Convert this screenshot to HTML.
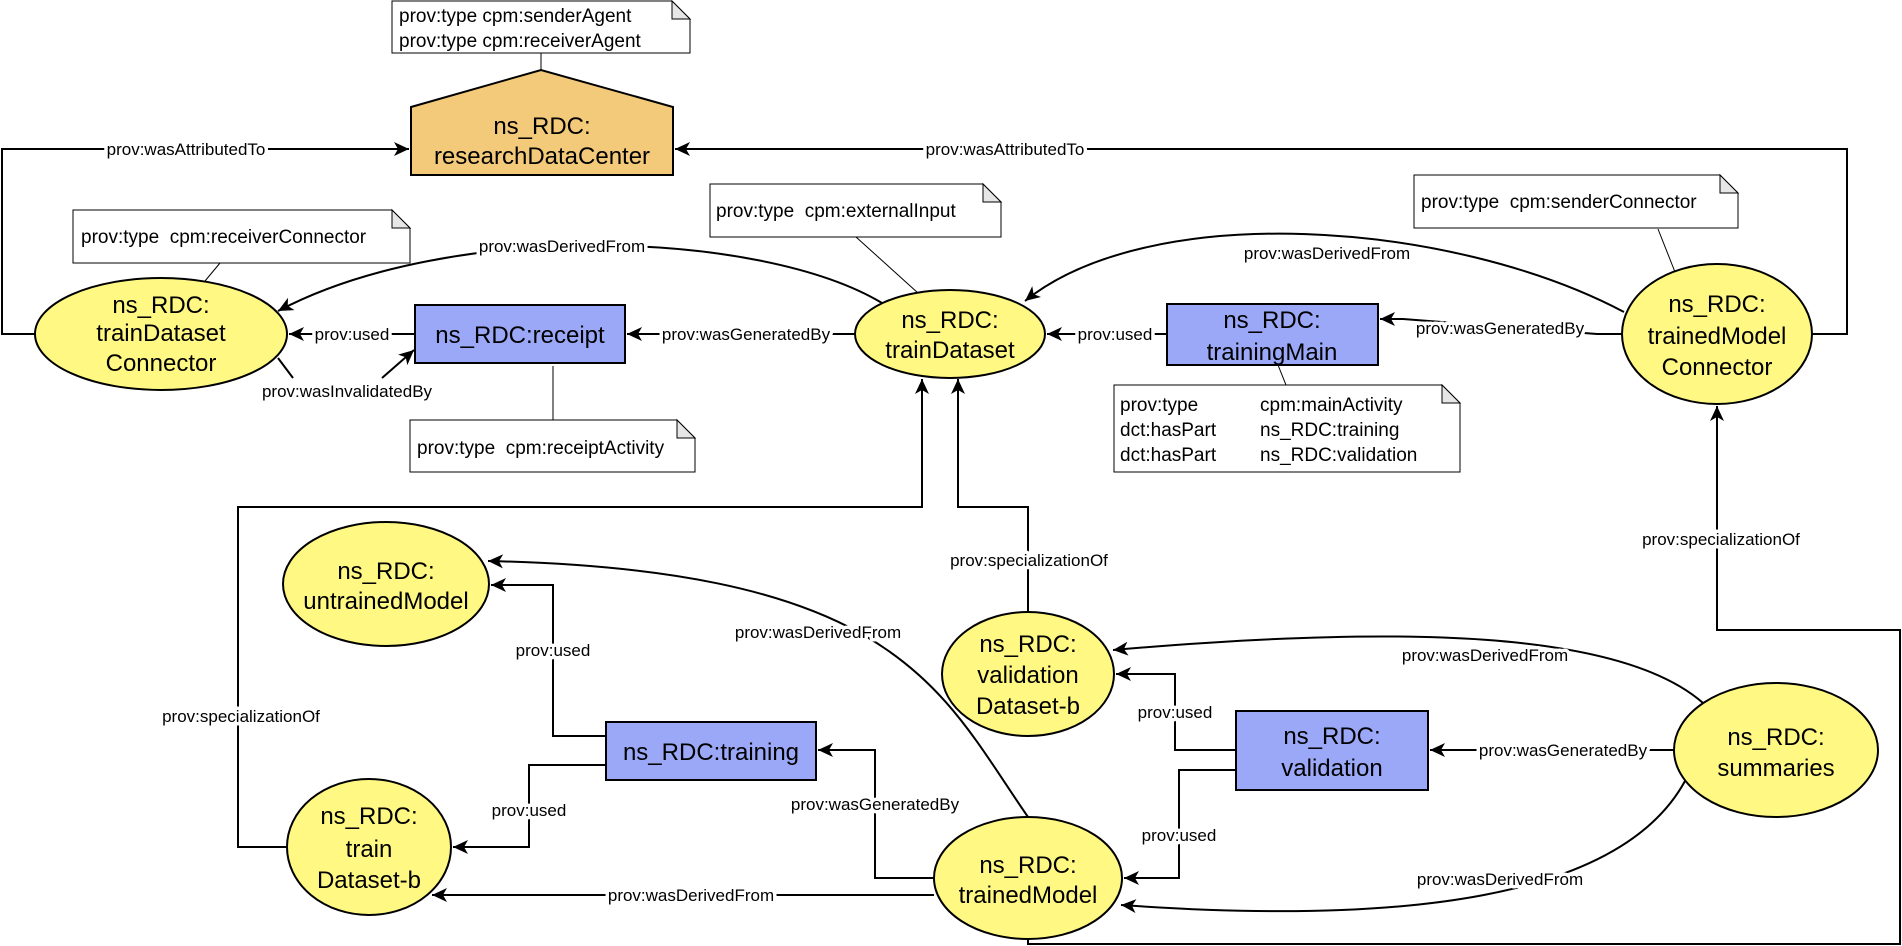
<!DOCTYPE html>
<html><head><meta charset="utf-8"><style>
html,body{margin:0;padding:0;background:#fff;}
svg{display:block;}
text{font-family:"Liberation Sans",Arial,sans-serif;fill:#000;}
.n{font-size:24px;text-anchor:middle;}
.l{font-size:17px;text-anchor:middle;stroke:#fff;stroke-width:7px;paint-order:stroke;stroke-linejoin:round;}
.t{font-size:19px;white-space:pre;}
.e{fill:none;stroke:#000;stroke-width:2;}
.th{fill:none;stroke:#000;stroke-width:1;}
.ent{fill:#FFF983;stroke:#000;stroke-width:2;}
.act{fill:#9AA8F7;stroke:#000;stroke-width:2;}
.note{fill:#fff;stroke:#000;stroke-width:1;}
</style></head><body>
<svg width="1902" height="946" viewBox="0 0 1902 946" xmlns="http://www.w3.org/2000/svg">
<defs>
<marker id="a" markerUnits="userSpaceOnUse" markerWidth="16" markerHeight="14" refX="15" refY="7" orient="auto">
<path d="M0,0 L15,7 L0,14 L4,7 z" fill="#000"/>
</marker>
</defs>

<!-- note connector thin lines -->
<line class="th" x1="541" y1="53" x2="541" y2="70"/>
<line class="th" x1="220" y1="263" x2="205" y2="281"/>
<line class="th" x1="553" y1="366" x2="553" y2="420"/>
<line class="th" x1="856" y1="237" x2="918" y2="293"/>
<line class="th" x1="1278" y1="365" x2="1286" y2="385"/>
<line class="th" x1="1658" y1="229" x2="1675" y2="272"/>

<!-- edges -->
<path class="e" d="M35,334 H2 V149 H409" marker-end="url(#a)"/>
<path class="e" d="M1812,334 H1847 V149 H675" marker-end="url(#a)"/>
<path class="e" d="M882,303 C760,230 450,220 278,311" marker-end="url(#a)"/>
<path class="e" d="M1624,312 C1450,220 1150,200 1025,301" marker-end="url(#a)"/>
<path class="e" d="M415,334 H289" marker-end="url(#a)"/>
<path class="e" d="M278,358 L293,378 M382,378 L414,350" marker-end="url(#a)"/>
<path class="e" d="M855,334 H627" marker-end="url(#a)"/>
<path class="e" d="M1167,334 H1047" marker-end="url(#a)"/>
<path class="e" d="M1623,334 H1597 L1403,319 H1380" marker-end="url(#a)"/>
<path class="e" d="M287,847 H238 V507 H922 V379" marker-end="url(#a)"/>
<path class="e" d="M1028,612 V507 H958 V379" marker-end="url(#a)"/>
<path class="e" d="M1028,939 V944 H1900 V630 H1717 V406" marker-end="url(#a)"/>
<path class="e" d="M606,736 H553 V585 H491" marker-end="url(#a)"/>
<path class="e" d="M606,765 H529 V847 H453" marker-end="url(#a)"/>
<path class="e" d="M1028,817 C940,690 900,570 488,561" marker-end="url(#a)"/>
<path class="e" d="M934,878 H875 V750 H818" marker-end="url(#a)"/>
<path class="e" d="M934,895 H432" marker-end="url(#a)"/>
<path class="e" d="M1236,750 H1175 V674 H1116" marker-end="url(#a)"/>
<path class="e" d="M1236,770 H1179 V878 H1124" marker-end="url(#a)"/>
<path class="e" d="M1674,750 H1430" marker-end="url(#a)"/>
<path class="e" d="M1703,703 C1620,630 1400,625 1113,650" marker-end="url(#a)"/>
<path class="e" d="M1685,781 C1620,900 1400,925 1121,905" marker-end="url(#a)"/>

<!-- edge labels -->
<text class="l" x="186" y="155">prov:wasAttributedTo</text>
<text class="l" x="1005" y="155">prov:wasAttributedTo</text>
<text class="l" x="562" y="252">prov:wasDerivedFrom</text>
<text class="l" x="1327" y="259">prov:wasDerivedFrom</text>
<text class="l" x="352" y="340">prov:used</text>
<text class="l" x="347" y="397">prov:wasInvalidatedBy</text>
<text class="l" x="746" y="340">prov:wasGeneratedBy</text>
<text class="l" x="1115" y="340">prov:used</text>
<text class="l" x="1500" y="334">prov:wasGeneratedBy</text>
<text class="l" x="241" y="722">prov:specializationOf</text>
<text class="l" x="1029" y="566">prov:specializationOf</text>
<text class="l" x="1721" y="545">prov:specializationOf</text>
<text class="l" x="553" y="656">prov:used</text>
<text class="l" x="529" y="816">prov:used</text>
<text class="l" x="818" y="638">prov:wasDerivedFrom</text>
<text class="l" x="875" y="810">prov:wasGeneratedBy</text>
<text class="l" x="691" y="901">prov:wasDerivedFrom</text>
<text class="l" x="1175" y="718">prov:used</text>
<text class="l" x="1179" y="841">prov:used</text>
<text class="l" x="1563" y="756">prov:wasGeneratedBy</text>
<text class="l" x="1485" y="661">prov:wasDerivedFrom</text>
<text class="l" x="1500" y="885">prov:wasDerivedFrom</text>

<!-- notes -->
<g>
<path class="note" d="M392,1 H672 L690,19 V53 H392 Z"/><path d="M672,1 V19 H690 Z" fill="#e6e6e6" stroke="#000" stroke-width="1"/>
<text class="t" x="399" y="22">prov:type cpm:senderAgent</text>
<text class="t" x="399" y="47">prov:type cpm:receiverAgent</text>
</g>
<g>
<path class="note" d="M73,210 H392 L410,228 V263 H73 Z"/><path d="M392,210 V228 H410 Z" fill="#e6e6e6" stroke="#000" stroke-width="1"/>
<text class="t" x="81" y="243">prov:type  cpm:receiverConnector</text>
</g>
<g>
<path class="note" d="M410,420 H677 L695,438 V472 H410 Z"/><path d="M677,420 V438 H695 Z" fill="#e6e6e6" stroke="#000" stroke-width="1"/>
<text class="t" x="417" y="454">prov:type  cpm:receiptActivity</text>
</g>
<g>
<path class="note" d="M710,184 H983 L1001,202 V237 H710 Z"/><path d="M983,184 V202 H1001 Z" fill="#e6e6e6" stroke="#000" stroke-width="1"/>
<text class="t" x="716" y="217">prov:type  cpm:externalInput</text>
</g>
<g>
<path class="note" d="M1114,385 H1442 L1460,403 V472 H1114 Z"/><path d="M1442,385 V403 H1460 Z" fill="#e6e6e6" stroke="#000" stroke-width="1"/>
<text class="t" x="1120" y="411">prov:type</text><text class="t" x="1260" y="411">cpm:mainActivity</text>
<text class="t" x="1120" y="436">dct:hasPart</text><text class="t" x="1260" y="436">ns_RDC:training</text>
<text class="t" x="1120" y="461">dct:hasPart</text><text class="t" x="1260" y="461">ns_RDC:validation</text>
</g>
<g>
<path class="note" d="M1414,175 H1720 L1738,193 V228 H1414 Z"/><path d="M1720,175 V193 H1738 Z" fill="#e6e6e6" stroke="#000" stroke-width="1"/>
<text class="t" x="1421" y="208">prov:type  cpm:senderConnector</text>
</g>

<!-- agent -->
<path d="M411,107 L541,70 L673,107 V175 H411 Z" fill="#F3CA7A" stroke="#000" stroke-width="2"/>
<text class="n" x="542" y="134">ns_RDC:</text>
<text class="n" x="542" y="164">researchDataCenter</text>

<!-- entities -->
<ellipse class="ent" cx="161" cy="334" rx="126" ry="56"/>
<text class="n" x="161" y="313">ns_RDC:</text><text class="n" x="161" y="341">trainDataset</text><text class="n" x="161" y="371">Connector</text>

<ellipse class="ent" cx="950" cy="334" rx="95" ry="44"/>
<text class="n" x="950" y="328">ns_RDC:</text><text class="n" x="950" y="358">trainDataset</text>

<ellipse class="ent" cx="1717" cy="334" rx="95" ry="70"/>
<text class="n" x="1717" y="312">ns_RDC:</text><text class="n" x="1717" y="344">trainedModel</text><text class="n" x="1717" y="375">Connector</text>

<ellipse class="ent" cx="386" cy="584" rx="103" ry="62"/>
<text class="n" x="386" y="579">ns_RDC:</text><text class="n" x="386" y="609">untrainedModel</text>

<ellipse class="ent" cx="369" cy="847" rx="82" ry="68"/>
<text class="n" x="369" y="824">ns_RDC:</text><text class="n" x="369" y="857">train</text><text class="n" x="369" y="888">Dataset-b</text>

<ellipse class="ent" cx="1028" cy="674" rx="86" ry="62"/>
<text class="n" x="1028" y="652">ns_RDC:</text><text class="n" x="1028" y="683">validation</text><text class="n" x="1028" y="714">Dataset-b</text>

<ellipse class="ent" cx="1028" cy="878" rx="94" ry="61"/>
<text class="n" x="1028" y="873">ns_RDC:</text><text class="n" x="1028" y="903">trainedModel</text>

<ellipse class="ent" cx="1776" cy="750" rx="102" ry="67"/>
<text class="n" x="1776" y="745">ns_RDC:</text><text class="n" x="1776" y="776">summaries</text>

<!-- activities -->
<rect class="act" x="415" y="305" width="210" height="58"/>
<text class="n" x="520" y="343">ns_RDC:receipt</text>
<rect class="act" x="1167" y="304" width="211" height="61"/>
<text class="n" x="1272" y="328">ns_RDC:</text><text class="n" x="1272" y="360">trainingMain</text>
<rect class="act" x="606" y="722" width="210" height="58"/>
<text class="n" x="711" y="760">ns_RDC:training</text>
<rect class="act" x="1236" y="711" width="192" height="79"/>
<text class="n" x="1332" y="744">ns_RDC:</text><text class="n" x="1332" y="776">validation</text>
</svg>
</body></html>
